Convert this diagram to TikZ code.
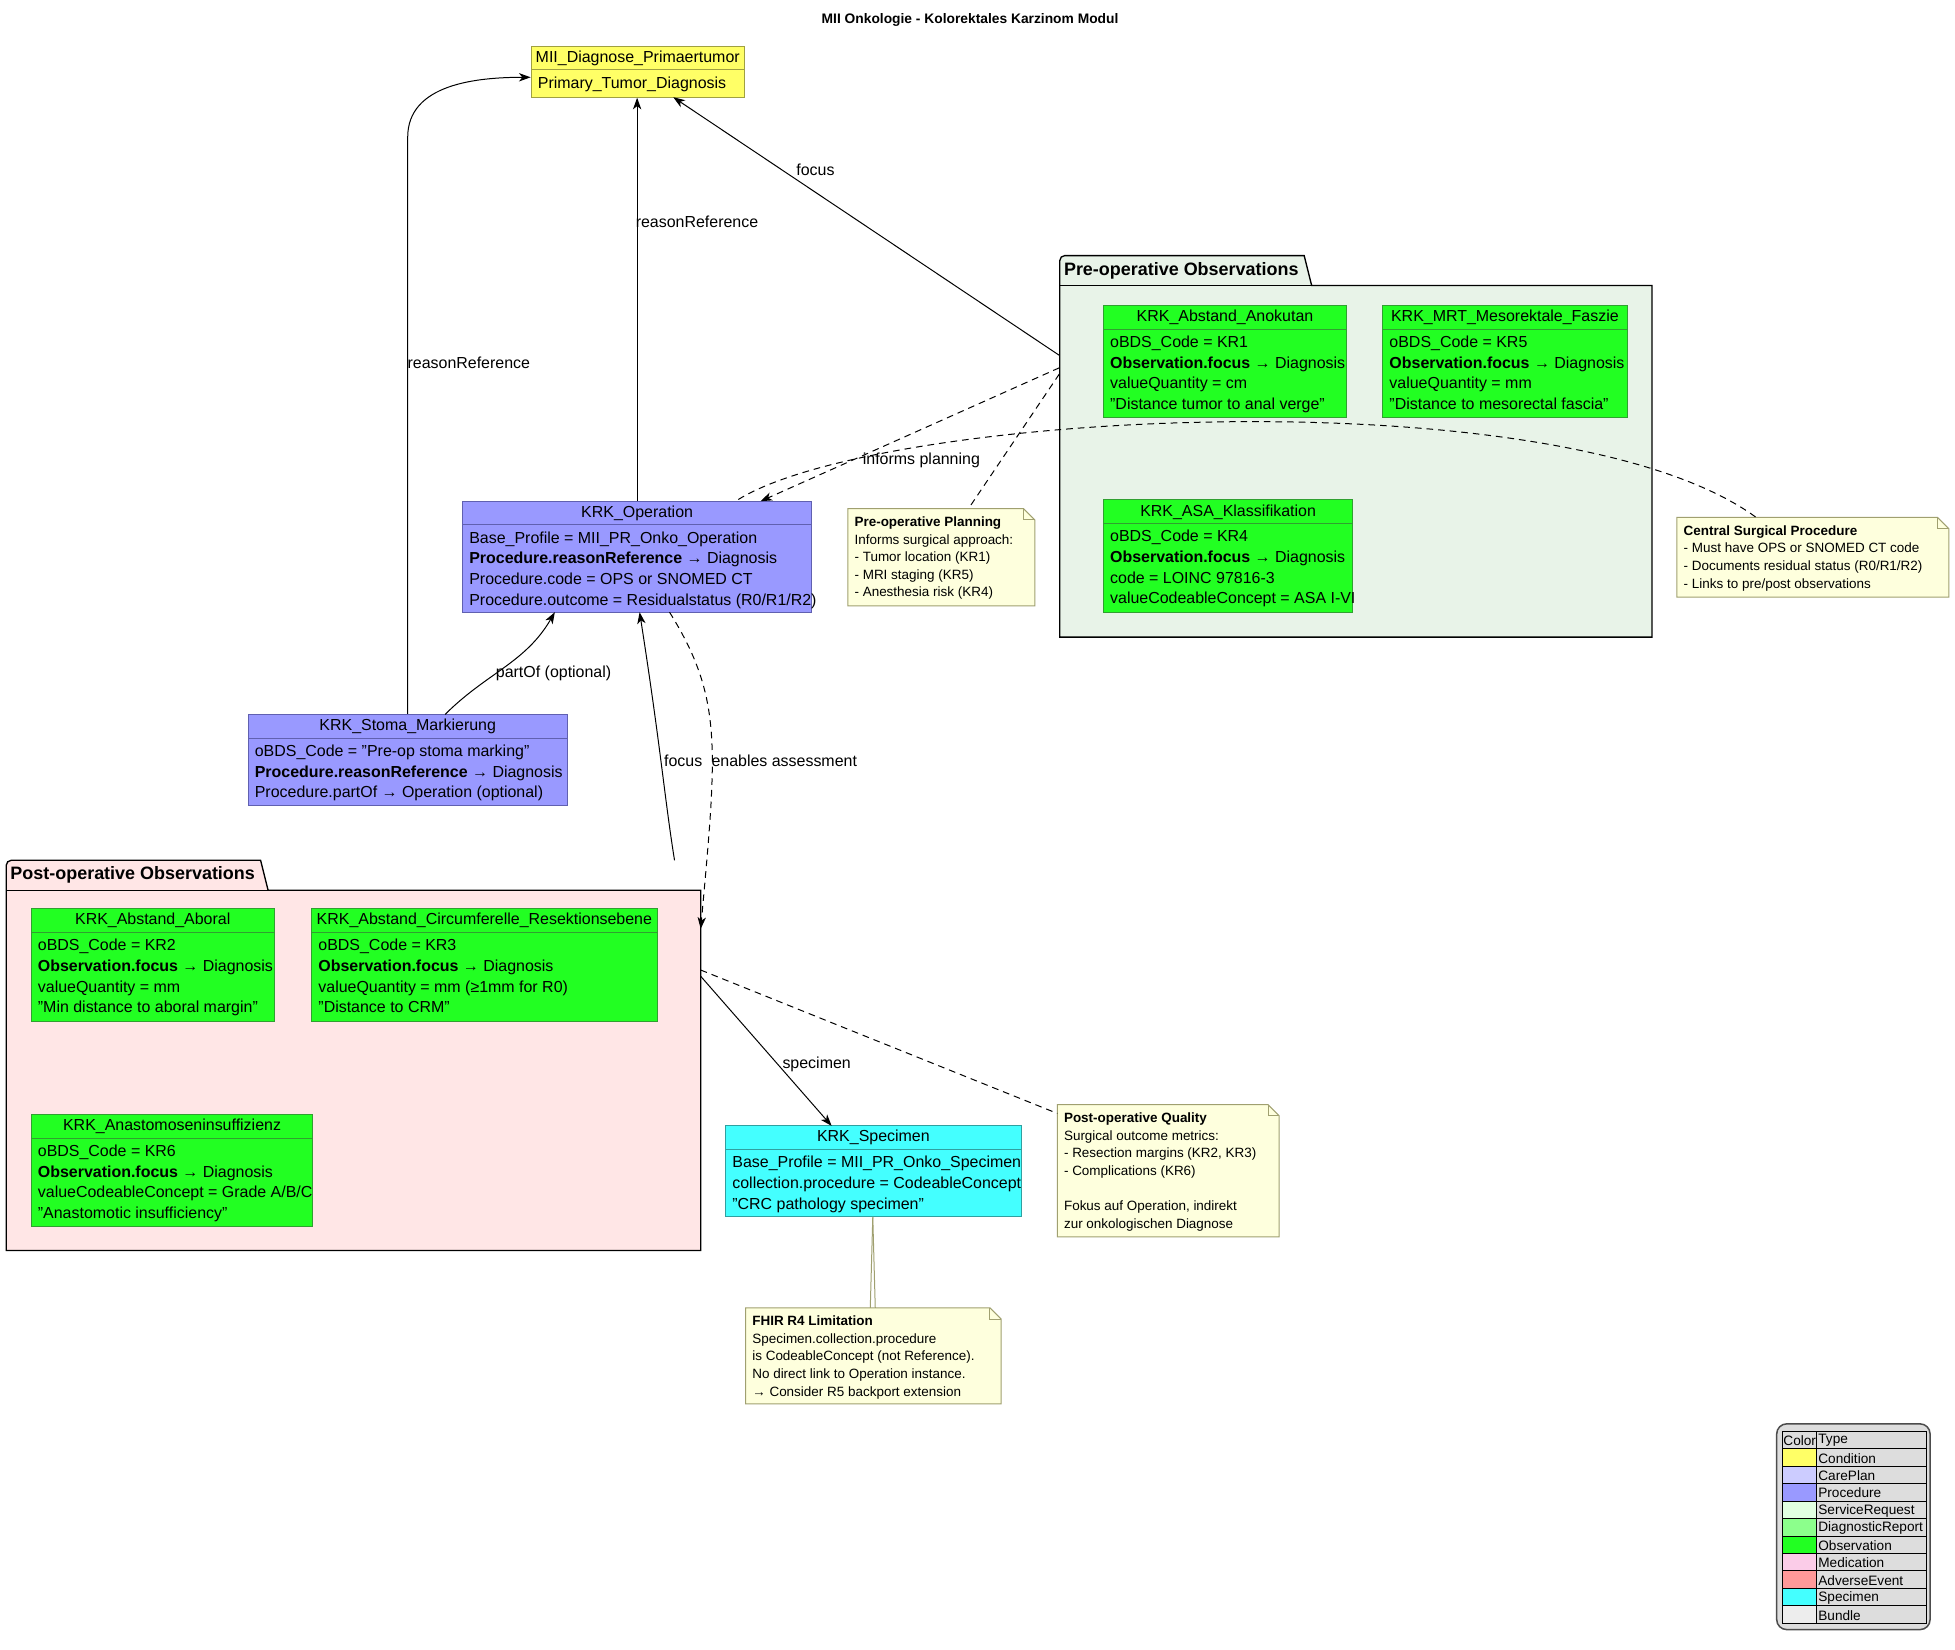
\documentclass[tikz,border=0pt]{standalone}
\usepackage{fontspec}
\setmainfont{Liberation Sans}
\usetikzlibrary{arrows.meta,fit}
\definecolor{cond}{HTML}{FFFF66}
\definecolor{condB}{HTML}{A0A040}
\definecolor{proc}{HTML}{9999FF}
\definecolor{procB}{HTML}{6060B0}
\definecolor{obs}{HTML}{22FF22}
\definecolor{obsB}{HTML}{30A030}
\definecolor{spec}{HTML}{44FFFF}
\definecolor{specB}{HTML}{30A0A0}
\definecolor{notef}{HTML}{FEFFDD}
\definecolor{noteB}{HTML}{A0A070}
\definecolor{preF}{HTML}{E8F3E8}
\definecolor{postF}{HTML}{FFE6E6}
\definecolor{legG}{HTML}{DDDDDD}
\newcommand\bfnt{\fontsize{9.6}{12.4}\selectfont}
\newcommand\nfnt{\fontsize{8.1}{10.6}\selectfont}
% name x1 y1 x2 y2 fill border header body
\newcommand\umlbox[9]{%
  \path[draw=#7,fill=#6] (#2,#3) rectangle (#4,#5);
  \node[inner sep=0,fit={(#2,#3)(#4,#5)}] (#1) {};
  \node[font=\bfnt,inner sep=0] at ({(#2+#4)/2},#3+9.5) {#8};
  \draw[#7] (#2,#3+19) -- (#4,#3+19);
  \node[font=\bfnt,anchor=north west,align=left,inner sep=0] at (#2+5,#3+24) {#9};}
% name x1 y1 x2 y2 body
\newcommand\umlnote[6]{%
  \path[draw=noteB,fill=notef] (#2,#3) -- (#4-9,#3) -- (#4,#3+9) -- (#4,#5) -- (#2,#5) -- cycle;
  \draw[noteB] (#4-9,#3) -- (#4-9,#3+9) -- (#4,#3+9);
  \node[inner sep=0,fit={(#2,#3)(#4,#5)}] (#1) {};
  \node[font=\nfnt,anchor=north west,align=left,inner sep=0] at (#2+5,#3+6) {#6};}
\newcommand\pkg[7]{% name x1 y1 x2 y2 tabx2 fill title
  \path[draw=black,thick,fill=#7] (#2,#3+24) -- (#2,#3+4) to[out=90,in=180] (#2+4,#3) -- (#6-6,#3) -- (#6,#3+24) -- (#4,#3+24) -- (#4,#5) -- (#2,#5) -- cycle;
  \draw[black] (#2,#3+24) -- (#6,#3+24);
  \node[inner sep=0,fit={(#2,#3+24)(#4,#5)}] (#1) {};}
\tikzset{
  lbl/.style={font=\bfnt,inner sep=1pt},
  arr/.style={-{Stealth[length=7pt,width=5pt,inset=2pt]},black},
  dsh/.style={dashed,dash pattern=on 4pt off 3pt},
}
\begin{document}
\begin{tikzpicture}[x=0.75pt,y=-0.75pt,line width=0.6pt]
\useasboundingbox (0,0) rectangle (1568,1323);
\node[font=\fontsize{8.3}{10}\selectfont\bfseries] (title) at (778,16) {MII Onkologie - Kolorektales Karzinom Modul};

\pkg{pre}{850}{205}{1325}{511}{1052}{preF}
\node[font=\fontsize{10.8}{13}\selectfont\bfseries,anchor=west,inner sep=0] at (853,217) {Pre-operative Observations};
\pkg{post}{5}{690}{562}{1003}{215}{postF}
\node[font=\fontsize{10.8}{13}\selectfont\bfseries,anchor=west,inner sep=0] at (8,702) {Post-operative Observations};

\umlbox{diag}{426}{37}{597}{78}{cond}{condB}{MII\_Diagnose\_Primaertumor}{Primary\_Tumor\_Diagnosis}
\umlbox{op}{371}{402}{651}{491}{proc}{procB}{KRK\_Operation}{Base\_Profile = MII\_PR\_Onko\_Operation\\\textbf{Procedure.reasonReference} → Diagnosis\\Procedure.code = OPS or SNOMED CT\\Procedure.outcome = Residualstatus (R0/R1/R2)}
\umlbox{stoma}{199}{573}{455}{646}{proc}{procB}{KRK\_Stoma\_Markierung}{oBDS\_Code = "Pre-op stoma marking"\\\textbf{Procedure.reasonReference} → Diagnosis\\Procedure.partOf → Operation (optional)}
\umlbox{anok}{885}{245}{1080}{335}{obs}{obsB}{KRK\_Abstand\_Anokutan}{oBDS\_Code = KR1\\\textbf{Observation.focus} → Diagnosis\\valueQuantity = cm\\"Distance tumor to anal verge"}
\umlbox{mrt}{1109}{245}{1305}{335}{obs}{obsB}{KRK\_MRT\_Mesorektale\_Faszie}{oBDS\_Code = KR5\\\textbf{Observation.focus} → Diagnosis\\valueQuantity = mm\\"Distance to mesorectal fascia"}
\umlbox{asa}{885}{401}{1085}{491}{obs}{obsB}{KRK\_ASA\_Klassifikation}{oBDS\_Code = KR4\\\textbf{Observation.focus} → Diagnosis\\code = LOINC 97816-3\\valueCodeableConcept = ASA I-VI}
\umlbox{abor}{25}{729}{220}{819}{obs}{obsB}{KRK\_Abstand\_Aboral}{oBDS\_Code = KR2\\\textbf{Observation.focus} → Diagnosis\\valueQuantity = mm\\"Min distance to aboral margin"}
\umlbox{circ}{250}{729}{527}{819}{obs}{obsB}{KRK\_Abstand\_Circumferelle\_Resektionsebene}{oBDS\_Code = KR3\\\textbf{Observation.focus} → Diagnosis\\valueQuantity = mm (≥1mm for R0)\\"Distance to CRM"}
\umlbox{anast}{25}{894}{251}{984}{obs}{obsB}{KRK\_Anastomoseninsuffizienz}{oBDS\_Code = KR6\\\textbf{Observation.focus} → Diagnosis\\valueCodeableConcept = Grade A/B/C\\"Anastomotic insufficiency"}
\umlbox{spec}{582}{903}{819}{976}{spec}{specB}{KRK\_Specimen}{Base\_Profile = MII\_PR\_Onko\_Specimen\\collection.procedure = CodeableConcept\\"CRC pathology specimen"}

\umlnote{nplan}{680}{408}{830}{486}{\textbf{Pre-operative Planning}\\Informs surgical approach:\\- Tumor location (KR1)\\- MRI staging (KR5)\\- Anesthesia risk (KR4)}
\umlnote{ncent}{1345}{415}{1563}{479}{\textbf{Central Surgical Procedure}\\- Must have OPS or SNOMED CT code\\- Documents residual status (R0/R1/R2)\\- Links to pre/post observations}
\umlnote{nqual}{848}{886}{1026}{992}{\textbf{Post-operative Quality}\\Surgical outcome metrics:\\- Resection margins (KR2, KR3)\\- Complications (KR6)\\[10.6pt]Fokus auf Operation, indirekt\\zur onkologischen Diagnose}
\umlnote{nfhir}{598}{1049}{803}{1126}{\textbf{FHIR R4 Limitation}\\Specimen.collection.procedure\\is CodeableConcept (not Reference).\\No direct link to Operation instance.\\→ Consider R5 backport extension}

% edges
\draw[arr] (stoma.north -| 327,0) -- (327,110) to[out=90,in=180] (diag.west |- 0,62);
\node[lbl] at (376,291) {reasonReference};
\draw[arr] (op.north -| 511,0) -- (diag.south -| 511,0);
\node[lbl] at (559,178) {reasonReference};
\draw[arr] (pre.west |- 0,285) -- (540,78);
\node[lbl] at (654,136) {focus};
\draw[arr,dsh] (pre.west |- 0,295) -- (610,402);
\node[lbl] at (739,369) {informs planning};
\draw[dsh] (pre.west |- 0,300) -- (nplan.north -| 777,0);
\draw[dsh] (ncent.north -| 1408,0) .. controls (1250,300) and (700,330) .. (590,402);
\draw[arr] (357,573) to[out=45,in=-120] (445,491);
\node[lbl] at (444,540) {partOf (optional)};
\draw[arr] (541,690) .. controls (533,640) and (530,600) .. (513,491);
\node[lbl] at (548,610) {focus};
\draw[arr,dsh] (537,491) .. controls (580,560) and (575,600) .. (562,745);
\node[lbl] at (629,610) {enables assessment};
\draw[arr] (562,783) -- (667,903);
\node[lbl] at (655,854) {specimen};
\draw[dsh] (562,778) -- (848,893);
\draw[noteB] (spec.south -| 700,0) -- (698,1049);
\draw[noteB] (700,976) -- (702,1049);

% legend
\begin{scope}[font=\fontsize{8.2}{10}\selectfont]
\path[draw=black!70,fill=legG,rounded corners=6pt,line width=0.9pt] (1425,1142) rectangle (1548,1307);
\foreach \c/\t [count=\i from 0] in {legG/Type,cond/Condition,{blue!20}/CarePlan,proc/Procedure,{green!12}/ServiceRequest,{green!45}/DiagnosticReport,obs/Observation,{magenta!20}/Medication,{red!40}/AdverseEvent,spec/Specimen,{black!7}/Bundle}{
  \pgfmathsetmacro\yy{1148+\i*14}
  \path[fill=\c] (1430,\yy) rectangle (1457,\yy+14);
  \draw[black] (1430,\yy) rectangle (1457,\yy+14);
  \draw[black] (1457,\yy) rectangle (1545,\yy+14);
  \node[anchor=west,inner sep=0] at (1458,\yy+7.5) {\t};
}
\node[anchor=west,inner sep=0] at (1430,1155.5) {Color};
\end{scope}
\end{tikzpicture}
\end{document}
